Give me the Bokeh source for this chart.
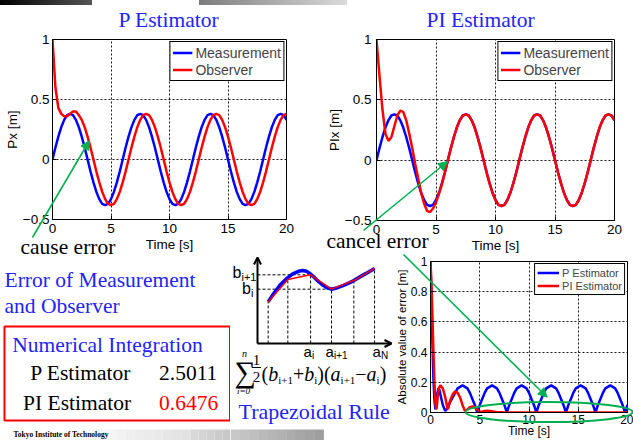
import math
from bokeh.plotting import figure
from bokeh.layouts import column, row
from bokeh.models import (Range1d, Legend, LegendItem, Arrow, NormalHead, OpenHead,
                          Div, FixedTicker)
from bokeh.core.properties import value
from bokeh.embed import file_html
from bokeh.resources import INLINE

# ---------------- data ----------------
time_s = [0, 0.25, 0.5, 0.75, 1, 1.25, 1.5, 1.75, 2, 2.25, 2.5, 2.75,
          3, 3.25, 3.5, 3.75, 4, 4.25, 4.5, 4.75, 5, 5.25, 5.5, 5.75,
          6, 6.25, 6.5, 6.75, 7, 7.25, 7.5, 7.75, 8, 8.25, 8.5, 8.75,
          9, 9.25, 9.5, 9.75, 10, 10.25, 10.5, 10.75, 11, 11.25, 11.5, 11.75,
          12, 12.25, 12.5, 12.75, 13, 13.25, 13.5, 13.75, 14, 14.25, 14.5, 14.75,
          15, 15.25, 15.5, 15.75, 16, 16.25, 16.5, 16.75, 17, 17.25, 17.5, 17.75,
          18, 18.25, 18.5, 18.75, 19, 19.25, 19.5, 19.75, 20]

measurement = [0, 0.10, 0.19, 0.27, 0.33, 0.37, 0.38, 0.37, 0.33, 0.27, 0.19, 0.10,
               0, -0.10, -0.19, -0.27, -0.33, -0.37, -0.38, -0.37, -0.33, -0.27, -0.19, -0.10,
               0, 0.10, 0.19, 0.27, 0.33, 0.37, 0.38, 0.37, 0.33, 0.27, 0.19, 0.10,
               0, -0.10, -0.19, -0.27, -0.33, -0.37, -0.38, -0.37, -0.33, -0.27, -0.19, -0.10,
               0, 0.10, 0.19, 0.27, 0.33, 0.37, 0.38, 0.37, 0.33, 0.27, 0.19, 0.10,
               0, -0.10, -0.19, -0.27, -0.33, -0.37, -0.38, -0.37, -0.33, -0.27, -0.19, -0.10,
               0, 0.10, 0.19, 0.27, 0.33, 0.37, 0.38, 0.37, 0.33]

p_observer = [1.00, 0.60, 0.43, 0.38, 0.36, 0.36, 0.38, 0.40, 0.40, 0.37, 0.33, 0.27,
              0.19, 0.10, 0, -0.10, -0.19, -0.27, -0.33, -0.37, -0.38, -0.37, -0.33, -0.27,
              -0.19, -0.10, 0, 0.10, 0.19, 0.27, 0.33, 0.37, 0.38, 0.37, 0.33, 0.27,
              0.19, 0.10, 0, -0.10, -0.19, -0.27, -0.33, -0.37, -0.38, -0.37, -0.33, -0.27,
              -0.19, -0.10, 0, 0.10, 0.19, 0.27, 0.33, 0.37, 0.38, 0.37, 0.33, 0.27,
              0.19, 0.10, 0, -0.10, -0.19, -0.27, -0.33, -0.37, -0.38, -0.37, -0.33, -0.27,
              -0.19, -0.10, 0, 0.10, 0.19, 0.27, 0.33, 0.37, 0.38]

pi_observer = [1.00, 0.70, 0.42, 0.22, 0.16, 0.19, 0.28, 0.37, 0.41, 0.40, 0.33, 0.22,
               0.10, -0.03, -0.15, -0.27, -0.36, -0.42, -0.43, -0.40, -0.35, -0.28, -0.20, -0.10,
               0, 0.10, 0.19, 0.27, 0.33, 0.37, 0.38, 0.37, 0.33, 0.27, 0.19, 0.10,
               0, -0.10, -0.19, -0.27, -0.33, -0.37, -0.38, -0.37, -0.33, -0.27, -0.19, -0.10,
               0, 0.10, 0.19, 0.27, 0.33, 0.37, 0.38, 0.37, 0.33, 0.27, 0.19, 0.10,
               0, -0.10, -0.19, -0.27, -0.33, -0.37, -0.38, -0.37, -0.33, -0.27, -0.19, -0.10,
               0, 0.10, 0.19, 0.27, 0.33, 0.37, 0.38, 0.37, 0.33]

time_err = [0, 0.1, 0.2, 0.3, 0.4, 0.5, 0.6, 0.7, 0.8, 0.9, 1.0,
            1.25, 1.5, 1.75, 2, 2.25, 2.5, 2.75, 3, 3.25, 3.5, 3.75, 4, 4.25, 4.5,
            4.75, 5, 5.25, 5.5, 5.75, 6, 6.25, 6.5, 6.75, 7, 7.25, 7.5,
            7.75, 8, 8.25, 8.5, 8.75, 9, 9.25, 9.5, 9.75, 10, 10.25, 10.5,
            10.75, 11, 11.25, 11.5, 11.75, 12, 12.25, 12.5, 12.75, 13, 13.25, 13.5,
            13.75, 14, 14.25, 14.5, 14.75, 15, 15.25, 15.5, 15.75, 16, 16.25, 16.5,
            16.75, 17, 17.25, 17.5, 17.75, 18, 18.25, 18.5, 18.75, 19, 19.25, 19.5,
            19.75, 20]

err_p = [1.00, 0.72, 0.45, 0.22, 0.08, 0.02, 0.08, 0.13, 0.16, 0.15, 0.12,
         0.05, 0.01, 0.03, 0.07, 0.10, 0.13, 0.16, 0.17, 0.18, 0.17, 0.16, 0.13, 0.09, 0.05,
         0, 0.05, 0.09, 0.13, 0.16, 0.17, 0.18, 0.17, 0.16, 0.13, 0.09, 0.05,
         0, 0.05, 0.09, 0.13, 0.16, 0.17, 0.18, 0.17, 0.16, 0.13, 0.09, 0.05,
         0, 0.05, 0.09, 0.13, 0.16, 0.17, 0.18, 0.17, 0.16, 0.13, 0.09, 0.05,
         0, 0.05, 0.09, 0.13, 0.16, 0.17, 0.18, 0.17, 0.16, 0.13, 0.09, 0.05,
         0, 0.05, 0.09, 0.13, 0.16, 0.17, 0.18, 0.17, 0.16, 0.13, 0.09, 0.05,
         0, 0.05]

err_pi = [1.00, 0.85, 0.62, 0.40, 0.20, 0.06, 0.02, 0.08, 0.14, 0.17, 0.18,
          0.16, 0.10, 0.02, 0.08, 0.12, 0.14, 0.13, 0.10, 0.05, 0.01, 0.02, 0.035, 0.04, 0.035,
          0.02, 0.005, 0.005, 0.01, 0.012, 0.01, 0.008, 0.005, 0.003, 0.002, 0.001, 0,
          0, 0, 0, 0, 0, 0, 0, 0, 0, 0, 0, 0,
          0, 0, 0, 0, 0, 0, 0, 0, 0, 0, 0, 0,
          0, 0, 0, 0, 0, 0, 0, 0, 0, 0, 0, 0,
          0, 0, 0, 0, 0, 0, 0, 0, 0, 0, 0, 0,
          0, 0]

x_ticks = [0, 5, 10, 15, 20]
y_ticks = [-0.5, 0, 0.5, 1]
y_tick_labels = ["\u22120.5", "0", "0.5", "1"]
err_y_ticks = [0, 0.2, 0.4, 0.6, 0.8, 1]
err_y_labels = ["0", "0.2", "0.4", "0.6", "0.8", "1"]

# trapezoid illustration
trap_a = [0.52, 1.48, 2.59, 3.61, 4.70, 5.71]
trap_b = [2.03, 3.12, 3.35, 2.65, 3.07, 3.66]
curve_a = [0.52, 0.8, 1.1, 1.4, 1.7, 2.0, 2.2, 2.4, 2.6, 2.8, 3.0, 3.2, 3.4, 3.61,
           3.9, 4.2, 4.5, 4.7, 5.0, 5.3, 5.71]
curve_b = [2.03, 2.45, 2.85, 3.15, 3.38, 3.52, 3.56, 3.52, 3.38, 3.2, 3.0, 2.84, 2.72, 2.65,
           2.72, 2.84, 2.97, 3.07, 3.25, 3.42, 3.66]

integ_names = ["P Estimator", "PI Estimator"]
integ_values = ["2.5011", "0.6476"]
integ_colors = ["black", "#ff0000"]

# ---------------- styles ----------------
SANS = "Liberation Sans"
SERIF = "Liberation Serif"
TXT_BLUE = "#2323f2"
GREEN = "#00b050"
LINE_BLUE = "#0000ff"
LINE_RED = "#ff0000"


def style_matlab(p, xt, yt, ylabels, fs, xlabel, ylabel, ystand):
    p.xaxis.ticker = FixedTicker(ticks=xt)
    p.yaxis.ticker = FixedTicker(ticks=yt)
    p.yaxis.major_label_overrides = {v: s for v, s in zip(yt, ylabels)}
    p.xaxis.axis_label = xlabel
    p.yaxis.axis_label = ylabel
    for ax in list(p.xaxis) + list(p.yaxis):
        ax.axis_line_color = "black"
        ax.major_tick_in = 4
        ax.major_tick_out = 0
        ax.major_tick_line_color = "black"
        ax.minor_tick_line_color = None
        ax.major_label_text_font = SANS
        ax.major_label_text_font_size = fs
        ax.major_label_text_color = "black"
        ax.axis_label_text_font = SANS
        ax.axis_label_text_font_size = fs
        ax.axis_label_text_font_style = "normal"
        ax.axis_label_text_color = "black"
        ax.axis_label_standoff = 0
    p.xaxis.major_label_standoff = 4
    p.xaxis.axis_label_standoff = 1
    p.yaxis.major_label_standoff = ystand
    p.grid.grid_line_color = "black"
    p.grid.grid_line_dash = "2 2"
    p.grid.grid_line_width = 1
    p.grid.grid_line_alpha = 0.9
    p.outline_line_color = "black"
    p.outline_line_alpha = 1
    p.outline_line_width = 1
    p.background_fill_color = "white"
    p.border_fill_color = "white"


def add_legend(p, items, fs, gw, rh, pad, margin):
    lg = Legend(items=[LegendItem(label=l, renderers=[r]) for l, r in items],
                location="top_right", label_text_font=SANS, label_text_font_size=fs,
                glyph_width=gw, glyph_height=rh, label_height=rh, spacing=0,
                padding=pad, margin=margin, label_standoff=3,
                border_line_color="black", border_line_width=1, border_line_alpha=1,
                background_fill_color="white", background_fill_alpha=1)
    p.add_layout(lg)


def green_arrow(p, xs, ys, xe, ye):
    p.add_layout(Arrow(end=NormalHead(size=9, fill_color=GREEN, line_color=GREEN, line_width=1),
                       x_start=xs, y_start=ys, x_end=xe, y_end=ye,
                       line_color=GREEN, line_width=1.6))


def ident(v):
    return v


def put(p, fx, fy, px, py, s, size, font=SERIF, color="black", style="normal", align="left"):
    # px, py: wanted page position of the text's left/centre and alphabetic baseline
    py = py - 0.3 * size  # compensate for the renderer's baseline placement
    p.text(x=[fx(px)], y=[fy(py)], text=[s], text_font=value(font),
           text_font_size=value("%gpx" % size), text_color=color,
           text_font_style=style, text_align=align, text_baseline="alphabetic")


def hgrad(p, x0, x1, y0, y1, c0, c1, n):
    lefts, rights, cols = [], [], []
    for i in range(n):
        f = i / (n - 1)
        g = [round(c0 + (c1 - c0) * f)] * 3
        lefts.append(x0 + (x1 - x0) * i / n)
        rights.append(x0 + (x1 - x0) * (i + 1) / n + 0.02)
        cols.append("#%02x%02x%02x" % tuple(g))
    p.quad(left=lefts, right=rights, top=[y0] * n, bottom=[y1] * n,
           fill_color=cols, line_color=None)


def blank_fig(w, h, xr, yr, **kw):
    f = figure(width=w, height=h, x_range=xr, y_range=yr, output_backend="svg",
               toolbar_location=None, min_border=0, x_axis_location=None,
               y_axis_location=None, frame_align=False, **kw)
    f.grid.visible = False
    f.outline_line_color = None
    return f


# ---------------- header bar ----------------
header = Div(text="", width=633, height=5, margin=0,
             styles={"background": "linear-gradient(to right, #000 0px, #555 92px, #fff 92px, "
                                   "#fff 199px, #7c7c7c 199px, #dadada 347px, #fff 347px)"})

# ---------------- P estimator ----------------
p1 = figure(width=316, height=251, x_range=Range1d(0, 20), y_range=Range1d(-0.5, 1),
            output_backend="svg", toolbar_location=None, frame_align=False,
            min_border_left=52, min_border_right=30, min_border_top=34, min_border_bottom=37)
style_matlab(p1, x_ticks, y_ticks, y_tick_labels, "13.5px", "Time [s]", "Px [m]", 3)
r1m = p1.line(time_s, measurement, line_color=LINE_BLUE, line_width=2.5)
r1o = p1.line(time_s, p_observer, line_color=LINE_RED, line_width=2.5)
add_legend(p1, [("Measurement", r1m), ("Observer", r1o)], "14px", 20, 17, 2, 2)

# ---------------- PI estimator ----------------
p2 = figure(width=317, height=251, x_range=Range1d(0, 20), y_range=Range1d(-0.5, 1),
            output_backend="svg", toolbar_location=None, frame_align=False,
            min_border_left=60, min_border_right=19, min_border_top=34, min_border_bottom=36)
style_matlab(p2, x_ticks, y_ticks, y_tick_labels, "13.5px", "Time [s]", "PIx [m]", 5)
r2m = p2.line(time_s, measurement, line_color=LINE_BLUE, line_width=2.5)
r2o = p2.line(time_s, pi_observer, line_color=LINE_RED, line_width=2.5)
add_legend(p2, [("Measurement", r2m), ("Observer", r2o)], "14px", 20, 17, 2, 2)

# ---------------- text panel (page coordinates, y measured from the row top) ----------------
tf = blank_fig(230, 184, Range1d(0, 230), Range1d(184, 0))
def ty(py):
    return py - 256
hgrad(tf, 60, 190, 173, 184, 255, 226, 14)
hgrad(tf, 190, 230, 173, 184, 216, 200, 5)
put(tf, ident, ty, 4, 286, "Error of Measurement", 21.5, color=TXT_BLUE)
put(tf, ident, ty, 4, 311.7, "and Observer", 21.5, color=TXT_BLUE)
tf.quad(left=[4], right=[229.5], top=[70], bottom=[164], fill_color=None,
        line_color="#ff0000", line_width=2)
put(tf, ident, ty, 11.7, 351, "Numerical Integration", 21.5, color=TXT_BLUE)
for i, (nm, vl, cl) in enumerate(zip(integ_names, integ_values, integ_colors)):
    yy = 378.5 + 30.7 * i
    put(tf, ident, ty, 130.7, yy, nm, 21.5, align="right")
    put(tf, ident, ty, 158.5, yy, vl, 21.5, color=cl)
put(tf, ident, ty, 13, 436, "Tokyo Institute of Technology", 7.5, style="bold")

# ---------------- trapezoid diagram ----------------
U = 20.5
OX, OY = 257, 343
def pa(px):
    return (px - OX) / U
def pb(py):
    return (OY - py) / U

tp = blank_fig(162, 184, Range1d(pa(230), pa(392)), Range1d(pb(440), pb(256)))
hgrad(tp, pa(230), pa(323), pb(429), pb(440), 200, 158, 10)
tp.segment(x0=trap_a, y0=[0] * len(trap_a), x1=trap_a, y1=trap_b,
           line_color="black", line_dash="3 2", line_width=1)
tp.segment(x0=[0, 0], y0=[trap_b[2], trap_b[3]], x1=[trap_a[2], trap_a[3]], y1=[trap_b[2], trap_b[3]],
           line_color="black", line_dash="3 2", line_width=1)
tp.line(curve_a, curve_b, line_color=LINE_BLUE, line_width=3.5)
tp.line(trap_a, trap_b, line_color=LINE_RED, line_width=1.5)
tp.add_layout(Arrow(end=OpenHead(size=7, line_width=2), x_start=0, y_start=0, x_end=0, y_end=pb(257),
                    line_width=2))
tp.add_layout(Arrow(end=OpenHead(size=7, line_width=2), x_start=0, y_start=0, x_end=pa(391), y_end=0,
                    line_width=2))
put(tp, pa, pb, 232, 276.5, "b", 16, font=SANS)
put(tp, pa, pb, 241, 279.5, "i+1", 11, font=SANS)
put(tp, pa, pb, 241.5, 293, "b", 16, font=SANS)
put(tp, pa, pb, 250.5, 296, "i", 11, font=SANS)
for px, sub in ((303, "i"), (325, "i+1"), (372, "N")):
    put(tp, pa, pb, px, 355, "a", 15, font=SANS)
    put(tp, pa, pb, px + 8.5, 358, sub, 10, font=SANS)
put(tp, pa, pb, 234, 380, "\u2211", 30)
put(tp, pa, pb, 244, 356, "n", 10, style="italic", align="center")
put(tp, pa, pb, 243, 393, "i=0", 9, style="italic", align="center")
put(tp, pa, pb, 256, 364, "1", 15, align="center")
put(tp, pa, pb, 256, 381, "2", 15, align="center")
tp.segment(x0=[pa(251.5)], y0=[pb(367)], x1=[pa(260.5)], y1=[pb(367)], line_color="black", line_width=1)
pieces = [("(", 20, "normal", 0, 0.333), ("b", 20, "italic", 0, 0.5), ("i+1", 11, "normal", 4, 1.342),
          ("+", 20, "normal", 0, 0.564), ("b", 20, "italic", 0, 0.5), ("i", 11, "normal", 4, 0.278),
          (")(", 20, "normal", 0, 0.666), ("a", 20, "italic", 0, 0.5), ("i+1", 11, "normal", 4, 1.342),
          ("\u2212", 20, "normal", 0, 0.564), ("a", 20, "italic", 0, 0.5), ("i", 11, "normal", 4, 0.278),
          (")", 20, "normal", 0, 0.333)]
cx = 261
for s, sz, st, dy, w in pieces:
    put(tp, pa, pb, cx, 379 + dy, s, sz, style=st)
    cx += w * sz
put(tp, pa, pb, 238, 418, "Trapezoidal Rule", 22, color=TXT_BLUE)

# ---------------- error plot ----------------
pe = figure(width=241, height=184, x_range=Range1d(0, 20), y_range=Range1d(0, 1),
            output_backend="svg", toolbar_location=None, frame_align=False,
            min_border_left=34, min_border_right=6, min_border_top=5, min_border_bottom=27)
style_matlab(pe, x_ticks, err_y_ticks, err_y_labels, "12px", "Time [s]", "Absolute value of error [m]", 3)
pe.xaxis.major_label_standoff = 2
pe.xaxis.axis_label_standoff = -3
pe.yaxis.axis_label_text_font_size = "11.5px"
rep = pe.line(time_err, err_p, line_color=LINE_BLUE, line_width=2.5)
repi = pe.line(time_err, err_pi, line_color=LINE_RED, line_width=2.5)
add_legend(pe, [("P Estimator", rep), ("PI Estimator", repi)], "11px", 22, 13, 2, 2)

# ---------------- transparent overlay: titles and call-outs crossing panels ----------------
ov = blank_fig(633, 440, Range1d(0, 633), Range1d(440, 0), margin=(-440, 0, 0, 0))
ov.background_fill_alpha = 0
ov.border_fill_alpha = 0
put(ov, ident, ident, 118, 26, "P Estimator", 21.5, color=TXT_BLUE)
put(ov, ident, ident, 426, 26, "PI Estimator", 21.5, color=TXT_BLUE)
put(ov, ident, ident, 20, 253, "cause error", 21.5)
put(ov, ident, ident, 326, 247, "cancel error", 21.5)
green_arrow(ov, 32, 237, 89, 140)
green_arrow(ov, 363, 230, 447, 161)
green_arrow(ov, 403, 254, 546.7, 396.7)
ov.ellipse(x=[548.6], y=[411.6], width=[167], height=[20], fill_color=None,
           line_color=GREEN, line_width=2)

main = column(header, row(p1, p2, spacing=0), row(tf, tp, pe, spacing=0), spacing=0)
layout = column(main, ov, spacing=0)
open("out.html", "w").write(file_html(layout, INLINE))
